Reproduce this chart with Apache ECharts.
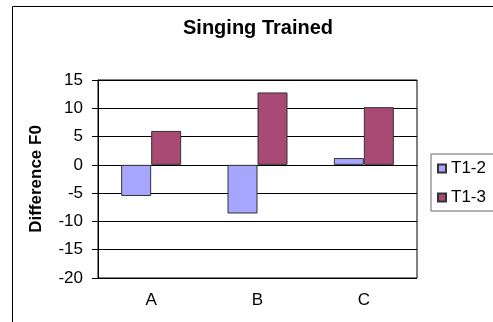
<!DOCTYPE html>
<html>
<head>
<meta charset="utf-8">
<script src="https://cdn.jsdelivr.net/npm/echarts@6/dist/echarts.min.js"></script>
<style>
  html, body { margin: 0; padding: 0; background: #fff; }
  #chart { width: 493px; height: 322px; }
</style>
</head>
<body>
<div id="chart"></div>
<script>
const categories = ['A', 'B', 'C'];
const seriesNames = ['T1-2', 'T1-3'];
const t12Values = [-5.5, -8.6, 1.2];
const t13Values = [6, 12.8, 10.2];
const yTicks = { min: -20, max: 15, interval: 5 };

const font = '"Liberation Sans", Arial, sans-serif';
const chart = echarts.init(document.getElementById('chart'));

const option = {
    backgroundColor: '#fff',
    animation: false,
    graphic: [{
        type: 'rect',
        shape: { x: 12.5, y: 6.5, width: 600, height: 400 },
        style: { fill: 'none', stroke: '#000', lineWidth: 1 },
        silent: true
    }],
    title: {
        text: 'Singing Trained',
        left: 183,
        top: 18,
        padding: 0,
        textStyle: { fontFamily: font, fontSize: 20, fontWeight: 'bold', color: '#000' }
    },
    legend: {
        orient: 'vertical',
        left: 431,
        top: 154,
        padding: [6, 10, 5, 6],
        itemGap: 12,
        itemWidth: 8,
        itemHeight: 8,
        icon: 'rect',
        borderColor: '#666',
        borderWidth: 1,
        data: seriesNames,
        textStyle: { fontFamily: font, fontSize: 17, color: '#000' }
    },
    grid: {
        left: 98,
        top: 80,
        right: 76,
        bottom: 44,
        show: true,
        borderColor: '#000',
        borderWidth: 1
    },
    xAxis: {
        type: 'category',
        data: categories,
        axisLine: { lineStyle: { color: '#000' } },
        axisTick: { show: false },
        axisLabel: { margin: 14, fontFamily: font, fontSize: 17, color: '#000' }
    },
    yAxis: {
        type: 'value',
        min: yTicks.min,
        max: yTicks.max,
        interval: yTicks.interval,
        name: 'Difference F0',
        nameLocation: 'middle',
        nameGap: 53,
        nameRotate: 90,
        nameTextStyle: { fontFamily: font, fontSize: 17, fontWeight: 'bold', color: '#000' },
        axisLine: { show: true, lineStyle: { color: '#000' } },
        axisTick: { show: true, length: 6, lineStyle: { color: '#000' } },
        axisLabel: { margin: 15, fontFamily: font, fontSize: 17, color: '#000' },
        splitLine: { lineStyle: { color: '#000', width: 1 } }
    },
    series: [
        {
            name: seriesNames[0],
            type: 'bar',
            data: t12Values,
            barWidth: 30,
            barGap: '0%',
            itemStyle: { color: '#A6A6FF', borderColor: '#333', borderWidth: 1 }
        },
        {
            name: seriesNames[1],
            type: 'bar',
            data: t13Values,
            barWidth: 30,
            barGap: '0%',
            itemStyle: { color: '#A84A74', borderColor: '#333', borderWidth: 1 }
        }
    ]
};

chart.setOption(option);
</script>
</body>
</html>
